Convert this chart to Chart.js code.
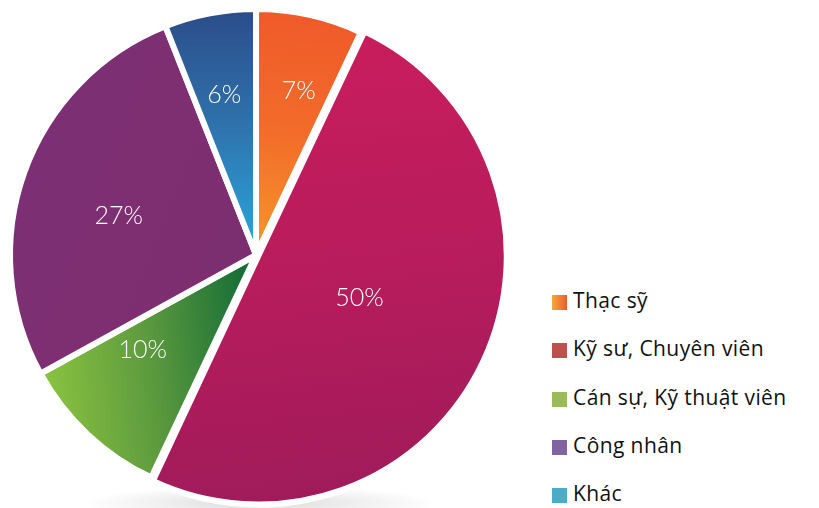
<!DOCTYPE html>
<html lang="vi">
<head>
    <meta charset="UTF-8">
    <title>Trình độ</title>
    <script src="https://cdn.jsdelivr.net/npm/chart.js"></script>
    <style>
        body {
            margin: 0;
            background: #fff;
            width: 819px;
            height: 508px;
            overflow: hidden;
            position: relative;
            font-family: "Open Sans", "Noto Sans", sans-serif;
        }
        .pie-box {
            position: absolute;
            left: 2px;
            top: 1px;
            width: 508px;
            height: 508px;
        }
        .shadow {
            position: absolute;
            left: 80px;
            top: 486px;
            width: 360px;
            height: 34px;
            border-radius: 50%;
            background: radial-gradient(ellipse at center, rgba(0,0,0,0.14) 0%, rgba(0,0,0,0) 70%);
        }
        #legend {
            position: absolute;
            left: 552px;
            top: 286px;
            margin: 0;
            padding: 0;
            list-style: none;
        }
        #legend li {
            height: 48.3px;
            display: flex;
            align-items: flex-start;
            font-size: 21px;
            letter-spacing: 0.4px;
            color: #111;
            white-space: nowrap;
        }
        #legend .sw {
            width: 15px;
            height: 15px;
            margin: 9px 6px 0 0;
            flex: none;
        }
    </style>
</head>
<body>
    <div class="shadow"></div>
    <div class="pie-box">
        <canvas id="pieChart"></canvas>
    </div>
    <ul id="legend"></ul>

    <script>
        const categories = ['Thạc sỹ', 'Kỹ sư, Chuyên viên', 'Cán sự, Kỹ thuật viên', 'Công nhân', 'Khác'];
        const percents = [7, 50, 10, 27, 6];
        const legendColors = ['linear-gradient(to right, #f7a83c, #f05a28)', '#c0504d', '#9bbb59', '#8064a2', '#4bacc6'];

        // gradient per slice: [x0, y0, x1, y1] as fractions of the box, then stops
        const sliceFills = [
            { g: [0.6, 0.02, 0.55, 0.5], c: ['#f0592a', '#f26c2a', '#f7962a'] },
            { g: [0.5, 0.1, 0.6, 1.0], c: ['#c81d5d', '#b71c5c', '#9f1b5a'] },
            { g: [0.05, 0.6, 0.5, 0.55], c: ['#8dc640', '#5d9a3e', '#0f6a36'] },
            { g: [0.0, 0.3, 0.5, 0.5], c: ['#7c2f75', '#7e2f72', '#7b2e70'] },
            { g: [0.5, 0.0, 0.5, 0.5], c: ['#2b4a86', '#2f73ad', '#2aa9df'] }
        ];
        // where the % text sits: [fraction of radius, fraction along the slice]
        const labelSpot = [[0.69, 0.58], [0.455, 0.485], [0.6, 0.69], [0.58, 0.46], [0.665, 0.48]];

        const fillFor = (context) => {
            const chart = context.chart;
            const area = chart.chartArea;
            const f = sliceFills[context.dataIndex];
            if (!area) return f.c[1];
            const w = area.right - area.left, h = area.bottom - area.top;
            const grad = chart.ctx.createLinearGradient(
                area.left + f.g[0] * w, area.top + f.g[1] * h,
                area.left + f.g[2] * w, area.top + f.g[3] * h);
            f.c.forEach((col, i) => grad.addColorStop(i / (f.c.length - 1), col));
            return grad;
        };

        const pctLabels = {
            id: 'pctLabels',
            afterDatasetsDraw(chart) {
                const ctx = chart.ctx;
                const meta = chart.getDatasetMeta(0);
                ctx.save();
                ctx.fillStyle = '#fff';
                ctx.font = '300 25px Lato, "Open Sans", sans-serif';
                ctx.textAlign = 'center';
                ctx.textBaseline = 'middle';
                meta.data.forEach((arc, i) => {
                    const p = arc.getProps(['x', 'y', 'startAngle', 'endAngle', 'outerRadius'], true);
                    const a = p.startAngle + (p.endAngle - p.startAngle) * labelSpot[i][1];
                    const r = p.outerRadius * labelSpot[i][0];
                    ctx.fillText(percents[i] + '%', p.x + Math.cos(a) * r, p.y + Math.sin(a) * r);
                });
                ctx.restore();
            }
        };

        new Chart(document.getElementById('pieChart'), {
            type: 'pie',
            data: {
                labels: categories,
                datasets: [{
                    data: percents,
                    backgroundColor: fillFor,
                    borderColor: '#fff',
                    borderWidth: 6,
                    offset: [0, 10, 0, 0, 0]
                }]
            },
            options: {
                responsive: true,
                maintainAspectRatio: false,
                animation: false,
                radius: 246,
                layout: { padding: 0 },
                plugins: {
                    legend: { display: false },
                    tooltip: { enabled: false }
                }
            },
            plugins: [pctLabels]
        });

        const legend = document.getElementById('legend');
        categories.forEach((name, i) => {
            const li = document.createElement('li');
            li.innerHTML = '<span class="sw" style="background:' + legendColors[i] + '"></span>' + name;
            legend.appendChild(li);
        });
    </script>
</body>
</html>
